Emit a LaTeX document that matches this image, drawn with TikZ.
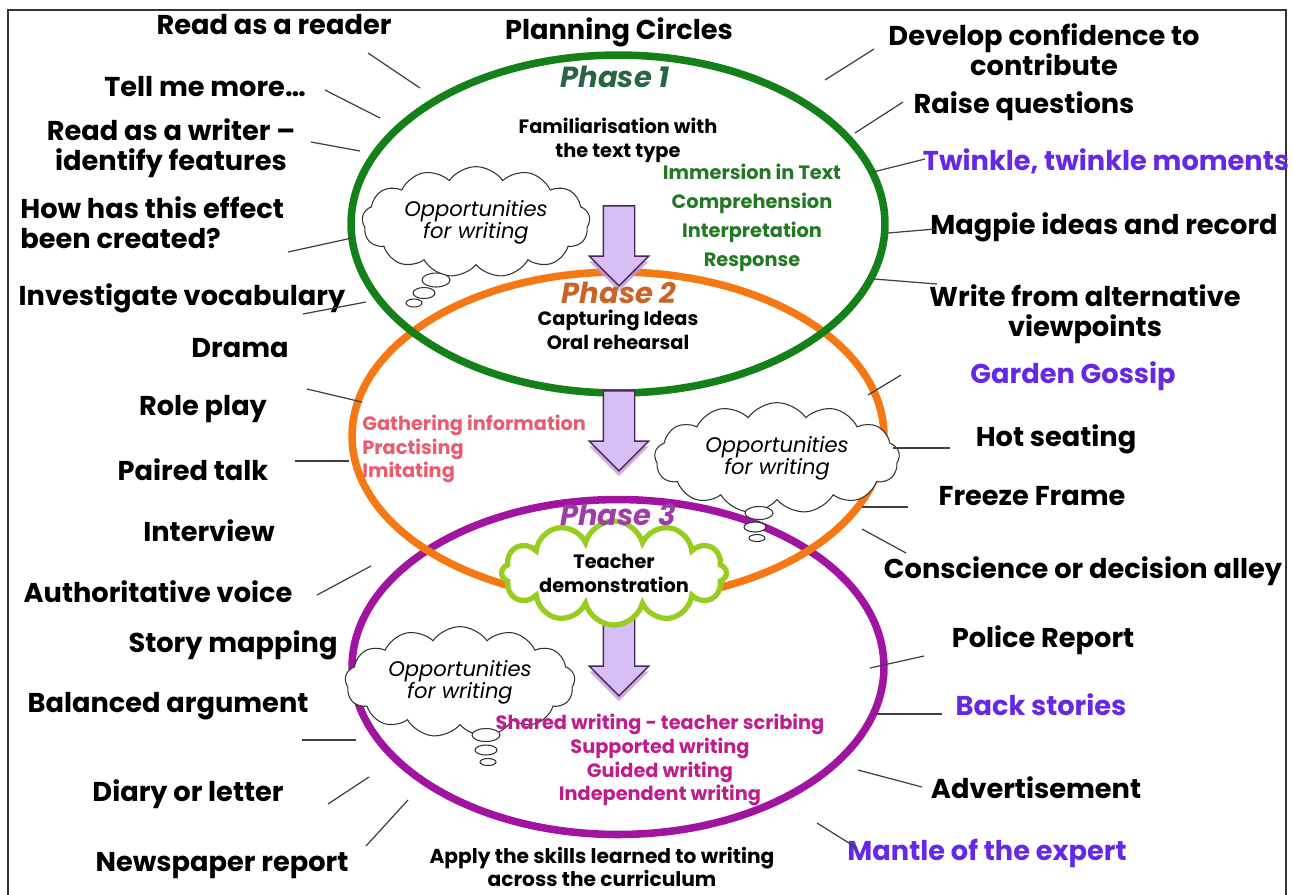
\documentclass[tikz,border=0pt]{standalone}
\usepackage{fontspec}
\setmainfont{Poppins}
\usetikzlibrary{shapes,shapes.geometric,shapes.symbols,shapes.arrows,shadows}
\definecolor{ringgreen}{RGB}{20,128,25}
\definecolor{ringorange}{RGB}{245,120,20}
\definecolor{ringpurple}{RGB}{160,20,160}
\definecolor{limecloud}{RGB}{150,205,30}
\definecolor{lavender}{RGB}{215,190,245}
\definecolor{arrowedge}{RGB}{70,40,90}
\definecolor{phaseone}{RGB}{40,100,70}
\definecolor{phasetwo}{RGB}{200,100,40}
\definecolor{phasethree}{RGB}{160,60,170}
\definecolor{immersion}{RGB}{35,120,35}
\definecolor{gather}{RGB}{235,90,110}
\definecolor{shared}{RGB}{190,30,140}
\definecolor{ideapurple}{RGB}{100,40,230}
\tikzstyle{idea}=[font=\bfseries\fontsize{15.5}{17}\selectfont,align=center,inner sep=0pt]
\tikzstyle{purpleidea}=[idea,text=ideapurple]
\tikzstyle{inner}=[font=\bfseries\fontsize{11}{13.6}\selectfont,align=center,inner sep=0pt]
\tikzstyle{phase}=[font=\bfseries\itshape\fontsize{16.5}{18}\selectfont,inner sep=0pt]
\tikzstyle{spoke}=[draw=black!75,line width=0.7pt]
\tikzstyle{ring}=[ellipse,draw,line width=4.3pt,inner sep=0pt]
\tikzstyle{downarrow}=[single arrow,rotate=-90,fill=lavender,draw=arrowedge,line width=0.8pt,
  inner xsep=0pt,inner ysep=0.3cm,minimum height=1.6cm,single arrow head extend=0.28cm,
  drop shadow={fill=lavender!80!violet,shadow xshift=0pt,shadow yshift=-3pt,opacity=0.8}]
\tikzstyle{thought}=[cloud,cloud puffs=13,cloud puff arc=110,aspect=2.3,draw=black!80,fill=white,
  line width=0.6pt,inner sep=0pt,font=\itshape\fontsize{12}{12.5}\selectfont,align=center]
\tikzstyle{bubble}=[ellipse,draw=black!80,fill=white,line width=0.6pt,inner sep=0pt]

\begin{document}
\begin{tikzpicture}[x=0.02cm,y=-0.02cm]
   \useasboundingbox (0,0) rectangle (1293,894);
   \draw[line width=1.6pt,black!80] (8,900) -- (8,10) -- (1286,10) -- (1286,900);

   % the three planning circles
   \node[ring,draw=ringpurple,minimum width=10.64cm,minimum height=6.7cm] (ring3) at (618,667) {};
   \node[ring,draw=ringorange,minimum width=10.64cm,minimum height=6.56cm] (ring2) at (618,436) {};
   \node[ring,draw=ringgreen,minimum width=10.68cm,minimum height=6.76cm] (ring1) at (618,224) {};

   \foreach \pos/ \name in {(619,238)/arrow1, (619,423)/arrow2, (619,648)/arrow3}
       \node[downarrow] (\name) at \pos {};

   % thought clouds
   \node[thought,minimum width=4.56cm,minimum height=2cm] (opp1) at (476,222) {Opportunities\\for writing};
   \node[thought,minimum width=4.9cm,minimum height=1.86cm] (opp2) at (777,458) {Opportunities\\for writing};
   \node[thought,minimum width=4.6cm,minimum height=2cm] (opp3) at (460,682) {Opportunities\\for writing};
   \foreach \pos/ \name / \w / \h in {(436,280)/b1a/0.56/0.28, (424,293)/b1b/0.44/0.22, (414,303)/b1c/0.32/0.16,
                                     (759,513)/b2a/0.56/0.26, (755,527)/b2b/0.44/0.2, (757,538)/b2c/0.32/0.14,
                                     (486,735)/b3a/0.56/0.26, (486,750)/b3b/0.44/0.2, (488,762)/b3c/0.32/0.14}
       \node[bubble,minimum width=\w cm,minimum height=\h cm] (\name) at \pos {};

   \node[cloud,cloud puffs=12,aspect=3.3,draw=limecloud,line width=3pt,fill=white,inner sep=0pt,
         minimum width=4.5cm,minimum height=1.3cm,inner,text=black] (teacher) at (614,573) {Teacher\\demonstration};

   % phase titles and inner texts
   \node[phase,text=phaseone] (phase1) at (615,77) {Phase 1};
   \node[phase,text=phasetwo] (phase2) at (619,293) {Phase 2};
   \node[phase,text=phasethree] (phase3) at (618,515) {Phase 3};
   \node[inner] (familiar) at (618,140) {Familiarisation with\\the text type};
   \node[inner,font=\bfseries\fontsize{11}{16.4}\selectfont,text=immersion] (immerse) at (752,218)
        {Immersion in Text\\Comprehension\\Interpretation\\Response};
   \node[inner] (capture) at (618,330) {Capturing Ideas\\Oral rehearsal};
   \node[inner,align=left,anchor=west,text=gather] (gathering) at (362,449)
        {Gathering information\\Practising\\Imitating};
   \node[inner,text=shared] (sharedw) at (660,760)
        {Shared writing - teacher scribing\\Supported writing\\Guided writing\\Independent writing};
   \node[inner,font=\bfseries\fontsize{11.5}{12.3}\selectfont] (apply) at (602,867)
        {Apply the skills learned to writing\\across the curriculum};
   \node[idea] (title) at (619,32) {Planning Circles};

   % activities round the circles
   \foreach \pos/ \name / \label in {(274,25)/readreader/Read as a reader, (205,87)/tellmore/Tell me more…,
       (171,148)/readwriter/{Read as a writer –\\identify features}, (182,298)/vocab/Investigate vocabulary,
       (240,348)/drama/Drama, (203,409)/roleplay/Role play, (193,470)/paired/Paired talk,
       (209,531)/interview/Interview, (158,592)/authvoice/Authoritative voice, (233,645)/storymap/Story mapping,
       (168,706)/balanced/Balanced argument, (188,794)/diary/Diary or letter, (222,866)/newspaper/Newspaper report,
       (1044,50)/confidence/{Develop confidence to\\contribute}, (1024,106)/raiseq/Raise questions,
       (1104,227)/magpie/Magpie ideas and record, (1085,314)/viewpoints/{Write from alternative\\viewpoints},
       (1056,439)/hotseat/Hot seating, (1032,496)/freeze/Freeze Frame,
       (1083,571)/conscience/Conscience or decision alley, (1043,640)/police/Police Report,
       (1036,788)/advert/Advertisement}
       \node[idea] (\name) at \pos {\label};
   \node[idea,align=left,anchor=west] (howeffect) at (20,223) {How has this effect\\been created?};
   \foreach \pos/ \name / \label in {(1106,161)/twinkle/{Twinkle, twinkle moments}, (1073,376)/gossip/Garden Gossip,
       (1041,705)/backstory/Back stories, (987,853)/mantle/Mantle of the expert}
       \node[purpleidea] (\name) at \pos {\label};

   % Connect activities with the circles
   \foreach \name/ \xa / \ya / \xb / \yb in {s1/368/53/420/88, s2/325/90/380/118, s3/311/142/360/151,
       s4/288/252/352/238, s5/303/314/366/302, s6/307/389/362/402, s7/295/461/349/461,
       s8/317/595/371/566, s9/302/740/356/740, s10/328/804/369/777, s11/366/846/408/800,
       s12/825/80/874/49, s13/855/133/903/102, s14/873/172/925/159, s15/888/233/935/229,
       s16/874/279/937/284, s17/868/395/901/375, s18/893/448/950/448, s19/862/507/908/507,
       s20/862/529/906/553, s21/870/668/924/656, s22/877/714/942/714, s23/858/770/922/787,
       s24/817/823/857/848}
   {
       \coordinate (\name-in) at (\xa,\ya);
       \coordinate (\name-out) at (\xb,\yb);
       \draw[spoke] (\name-in) -- (\name-out);
   }
\end{tikzpicture}
\end{document}
